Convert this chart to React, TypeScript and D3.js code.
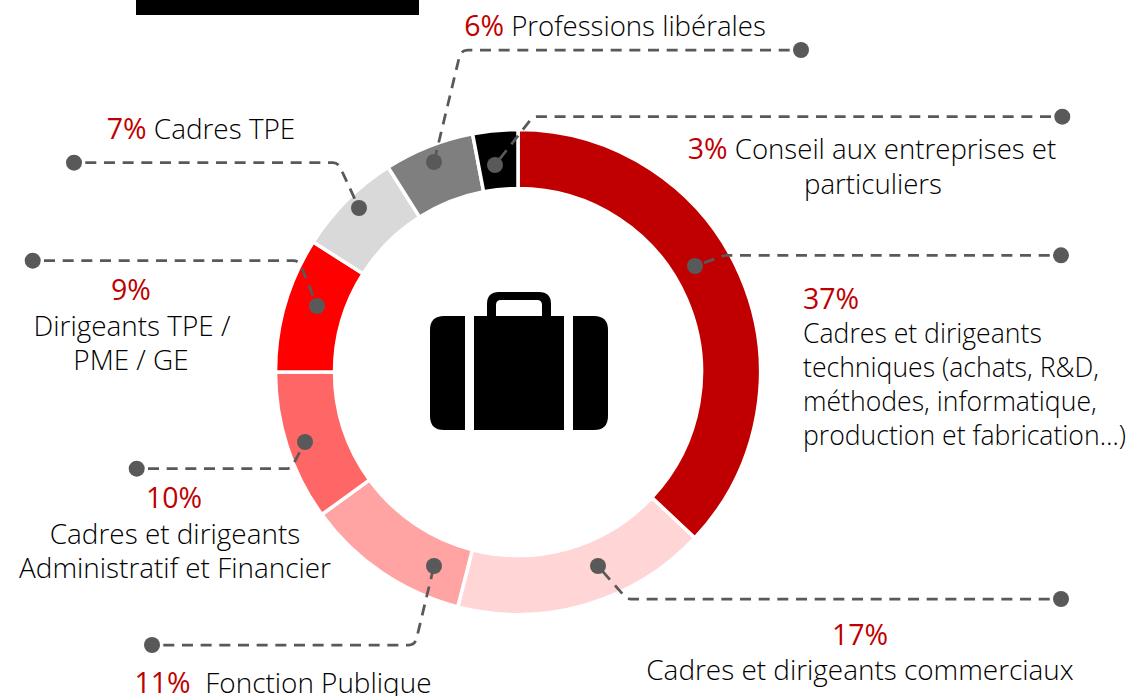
import React from "react";
import * as d3 from "d3";

const categories = [
  "Cadres et dirigeants techniques",
  "Cadres et dirigeants commerciaux",
  "Fonction Publique",
  "Cadres et dirigeants Administratif et Financier",
  "Dirigeants TPE / PME / GE",
  "Cadres TPE",
  "Professions libérales",
  "Conseil aux entreprises et particuliers",
];
const values = [37, 17, 11, 10, 9, 7, 6, 3];
const colors = ["#C00000", "#FFD5D5", "#FFA3A3", "#FF6666", "#FF0000", "#D9D9D9", "#7F7F7F", "#000000"];

const leaders: [number, number][][] = [
  [[695, 266], [725, 255.3], [1061, 255.3]],
  [[598, 566], [627, 599], [1061, 599]],
  [[434, 566], [415, 645], [152, 645]],
  [[305, 442], [291, 468.7], [136.7, 468.7]],
  [[317, 306], [299, 260.7], [32.7, 260.7]],
  [[359, 208], [338, 162.7], [74, 162.7]],
  [[434, 162], [461, 50], [801, 50]],
  [[495, 165], [533, 116.7], [1062.3, 116.7]],
];

type Run = { t: string; red?: boolean };
type Label = { x: number; y: number; anchor: "start" | "middle"; size?: number; runs: Run[] };
const labels: Label[] = [
  { x: 803, y: 309, anchor: "start", runs: [{ t: "37%", red: true }] },
  { x: 803, y: 343, anchor: "start", size: 26.6, runs: [{ t: "Cadres et dirigeants" }] },
  { x: 803, y: 377, anchor: "start", size: 26.6, runs: [{ t: "techniques (achats, R&D," }] },
  { x: 803, y: 411, anchor: "start", size: 26.6, runs: [{ t: "méthodes, informatique," }] },
  { x: 803, y: 445, anchor: "start", size: 26.6, runs: [{ t: "production et fabrication…)" }] },
  { x: 860, y: 645, anchor: "middle", runs: [{ t: "17%", red: true }] },
  { x: 860, y: 680, anchor: "middle", runs: [{ t: "Cadres et dirigeants commerciaux" }] },
  { x: 283, y: 693, anchor: "middle", runs: [{ t: "11% ", red: true }, { t: " Fonction Publique" }] },
  { x: 174, y: 508, anchor: "middle", runs: [{ t: "10%", red: true }] },
  { x: 175, y: 544, anchor: "middle", runs: [{ t: "Cadres et dirigeants" }] },
  { x: 175, y: 578, anchor: "middle", runs: [{ t: "Administratif et Financier" }] },
  { x: 131, y: 300, anchor: "middle", runs: [{ t: "9%", red: true }] },
  { x: 132, y: 336, anchor: "middle", runs: [{ t: "Dirigeants TPE /" }] },
  { x: 131, y: 370, anchor: "middle", runs: [{ t: "PME / GE" }] },
  { x: 201, y: 139, anchor: "middle", runs: [{ t: "7%", red: true }, { t: " Cadres TPE" }] },
  { x: 615, y: 36, anchor: "middle", size: 27.6, runs: [{ t: "6%", red: true }, { t: " Professions libérales" }] },
  { x: 872, y: 159, anchor: "middle", size: 27.6, runs: [{ t: "3%", red: true }, { t: " Conseil aux entreprises et" }] },
  { x: 873, y: 194, anchor: "middle", size: 27.6, runs: [{ t: "particuliers" }] },
];

const cx = 518, cy = 372, outer = 242.5, inner = 183.5;

function leaderPath(pts: [number, number][]) {
  const [a, b, c] = pts;
  const p = d3.path();
  p.moveTo(c[0], c[1]);
  p.arcTo(b[0], b[1], a[0], a[1], 8);
  p.lineTo(a[0], a[1]);
  return p.toString();
}

export default function App() {
  const pie = d3.pie<number>().sort(null).value((d) => d)(values);
  const arc = d3.arc<d3.PieArcDatum<number>>().innerRadius(inner).outerRadius(outer);
  return (
    <svg width={1135} height={696} style={{ position: "absolute", left: 0, top: 0, background: "#fff" }}>
      <rect x={136} y={-5} width={283} height={20} fill="#000" />
      <g transform={`translate(${cx},${cy})`}>
        {pie.map((p, i) => (
          <path key={categories[i]} d={arc(p) ?? ""} fill={colors[i]} stroke="#fff" strokeWidth={3.5} />
        ))}
      </g>
      {/* briefcase */}
      <g fill="#000">
        <path d="M465 316 H444 Q430 316 430 330 V416 Q430 430 444 430 H465 Z" />
        <path d="M573 316 H594 Q608 316 608 330 V416 Q608 430 594 430 H573 Z" />
        <rect x={474} y={316} width={90} height={114} />
        <path fillRule="evenodd" d="M487 317 V304 Q487 292 499 292 H539 Q551 292 551 304 V317 H542 V305 Q542 300 537 300 H501 Q496 300 496 305 V317 Z" />
      </g>
      {leaders.map((pts, i) => (
        <g key={i}>
          <path d={leaderPath(pts)} fill="none" stroke="#595959" strokeWidth={2.75} strokeDasharray="11 7.67" strokeDashoffset={-11.3} />
          <circle cx={pts[0][0]} cy={pts[0][1]} r={8} fill="#595959" />
          <circle cx={pts[2][0]} cy={pts[2][1]} r={8} fill="#595959" />
        </g>
      ))}
      <g fontFamily="'Open Sans', sans-serif" fontWeight={300} fontSize={27.9} fill="#000">
        {labels.map((l, i) => (
          <text key={i} x={l.x} y={l.y} textAnchor={l.anchor} fontSize={l.size} xmlSpace="preserve">
            {l.runs.map((r, j) => (
              <tspan key={j} fill={r.red ? "#C00000" : undefined} fontWeight={r.red ? 400 : undefined} fontSize={r.red ? 28.5 : undefined}>{r.t}</tspan>
            ))}
          </text>
        ))}
      </g>
    </svg>
  );
}
